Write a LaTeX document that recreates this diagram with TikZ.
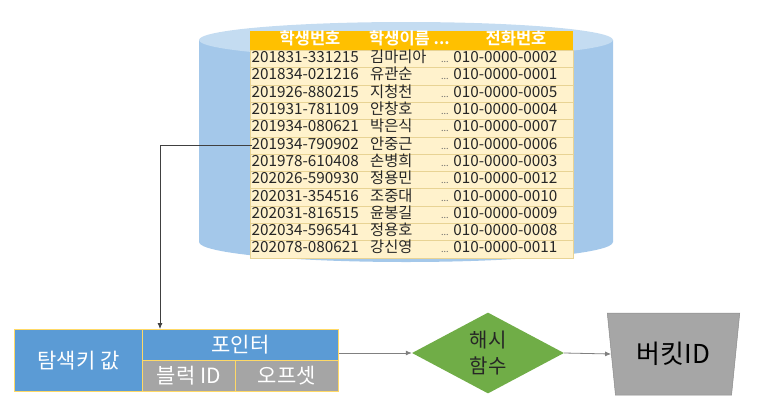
\documentclass[tikz,border=0pt]{standalone}
\usepackage{fontspec}
\setmainfont{Noto Sans CJK KR}[BoldFont={Noto Sans CJK KR Bold}]
\usetikzlibrary{shapes.geometric,arrows.meta}
\definecolor{cylside}{HTML}{A4C8EA}
\definecolor{cyltop}{HTML}{C4DCF1}
\definecolor{hdrgold}{HTML}{FFC000}
\definecolor{rowyel}{HTML}{FFF2CC}
\definecolor{rowline}{HTML}{E8D394}
\definecolor{keyblue}{HTML}{5B9BD5}
\definecolor{cellgray}{HTML}{A5A5A5}
\definecolor{cellborder}{HTML}{FFD966}
\definecolor{hashgreen}{HTML}{70AD47}
\definecolor{bucketgray}{HTML}{A6A6A6}
\definecolor{linegray}{HTML}{808080}
\tikzset{
  rowcell/.style={rectangle, fill=rowyel, draw=rowline, line width=0.6pt, inner sep=0pt, anchor=north west, minimum width=323pt, minimum height=17.3pt},
  hdrcell/.style={rectangle, fill=hdrgold, inner sep=0pt, anchor=north west, minimum width=323pt, minimum height=19pt},
  rowtxt/.style={inner sep=0pt, anchor=west, text height=11pt, text depth=3pt, font=\fontsize{15.3}{17}\selectfont, text=black!85},
  hdrtxt/.style={inner sep=0pt, text height=11pt, text depth=3pt, font=\fontsize{16.5}{18}\selectfont\bfseries, text=white},
  boxcell/.style={rectangle, draw=cellborder, line width=0.8pt, inner sep=0pt, anchor=north west, text=white, font=\fontsize{21}{23}\selectfont},
  arr/.style={draw=linegray, line width=0.8pt, -{Latex[length=6pt,width=5pt]}},
}
\begin{document}
\begin{tikzpicture}[x=1pt,y=-1pt]
\useasboundingbox (0,0) rectangle (758,413);
% cylinder
\fill[cylside] (199,40) -- (199,242) arc[start angle=180, end angle=360, x radius=207pt, y radius=20pt] -- (613,40) -- cycle;
\fill[cyltop] (406,40) ellipse [x radius=207pt, y radius=18pt];
% table header
\node[hdrcell] (hd) at (250,31) {};
\node[hdrtxt] (h1) at (310,40.5) {학생번호};
\node[hdrtxt, anchor=west] (h2) at (369,40.5) {학생이름 ...};
\node[hdrtxt] (h3) at (516,40.5) {전화번호};
% rows
\foreach \i/\a/\b/\c in {
 1/201831-331215/김마리아/0002,
 2/201834-021216/유관순/0001,
 3/201926-880215/지청천/0005,
 4/201931-781109/안창호/0004,
 5/201934-080621/박은식/0007,
 6/201934-790902/안중근/0006,
 7/201978-610408/손병희/0003,
 8/202026-590930/정용민/0012,
 9/202031-354516/조중대/0010,
 10/202031-816515/윤봉길/0009,
 11/202034-596541/정용호/0008,
 12/202078-080621/강신영/0011}{
  \node[rowcell] (r\i) at (250,{50+(\i-1)*17.3}) {};
  \node[rowtxt] (ra\i) at (251.5,{58.65+(\i-1)*17.3}) {\a};
  \node[rowtxt] (rb\i) at (370,{58.65+(\i-1)*17.3}) {\b};
  \node[rowtxt] (rc\i) at (441,{58.65+(\i-1)*17.3}) {{\fontsize{9}{9}\selectfont\color{black!60}...} 010-0000-\c};
}
% bottom boxes
\node[boxcell, fill=keyblue, minimum width=128pt, minimum height=62pt] (key) at (14,329) {탐색키 값};
\node[boxcell, fill=keyblue, minimum width=196pt, minimum height=31pt] (ptr) at (142,329) {포인터};
\node[boxcell, fill=cellgray, minimum width=93pt, minimum height=31pt] (blk) at (142,360) {블럭 ID};
\node[boxcell, fill=cellgray, minimum width=103pt, minimum height=31pt] (off) at (235,360) {오프셋};
% hash function
\node[diamond, fill=hashgreen, inner sep=0pt, minimum width=152pt, minimum height=74pt, align=center, text=black!85, font=\fontsize{20}{26}\selectfont] (hash) at (488,353) {해시\\함수};
% bucket
\node[trapezium, shape border rotate=180, trapezium stretches=true, trapezium angle=77.6, fill=bucketgray, draw=black!45, line width=0.5pt, minimum width=133pt, minimum height=82pt, inner sep=0pt, text=black, font=\fontsize{26}{28}\selectfont] (bucket) at (673.5,354) {버킷ID};
% connectors
\draw[draw=black!75, line width=0.8pt, -{Latex[length=6pt,width=5pt]}] (ra6.west) -| ([xshift=18pt]ptr.north west);
\draw[arr] (ptr.east |- hash.west) -- (hash.west);
\draw[arr] (hash.east) -- (bucket.180);
\end{tikzpicture}
\end{document}
